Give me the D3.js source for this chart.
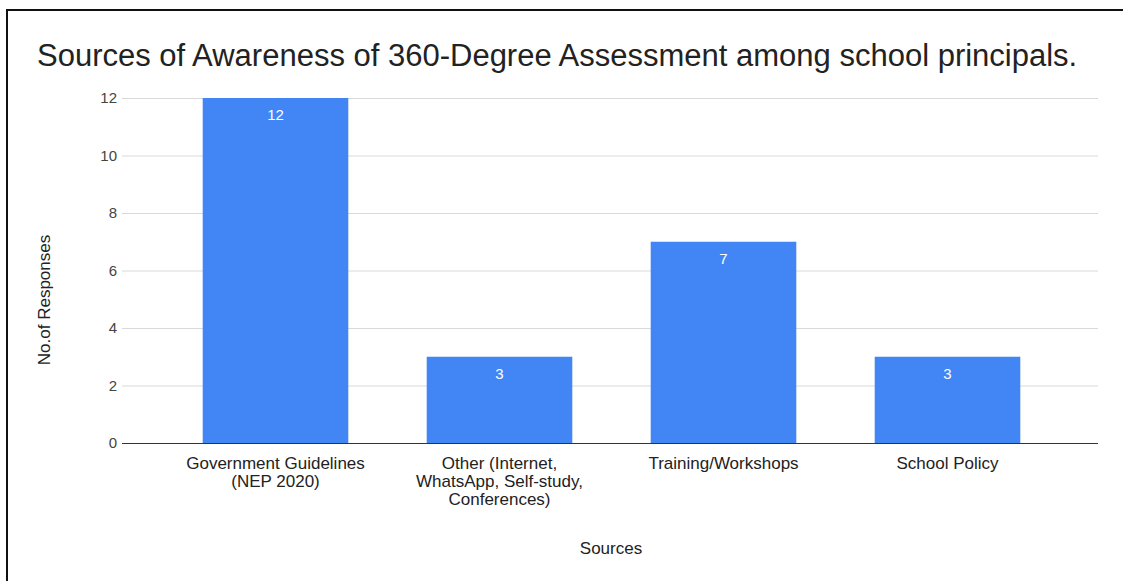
<!DOCTYPE html>
<html>
<head>
<meta charset="utf-8">
<script src="https://cdn.jsdelivr.net/npm/d3@7/dist/d3.min.js"></script>
<style>
  html, body { margin: 0; padding: 0; background: #fff; }
  svg { display: block; font-family: "Liberation Sans", Arial, sans-serif; }
</style>
</head>
<body>
<svg id="chart" width="1123" height="581"></svg>
<script>
// Survey results: where school principals heard about 360-degree assessment
const categories = [
  ["Government Guidelines", "(NEP 2020)"],
  ["Other (Internet,", "WhatsApp, Self-study,", "Conferences)"],
  ["Training/Workshops"],
  ["School Policy"]
];
const responses = [12, 3, 7, 3];
const yTicks = [0, 2, 4, 6, 8, 10, 12];

const chartTitle = "Sources of Awareness of 360-Degree Assessment among school principals.";
const xTitle = "Sources";
const yTitle = "No.of Responses";

const svg = d3.select("#chart");

// frame around the chart
svg.append("rect")
  .attr("x", 7).attr("y", 10)
  .attr("width", 1130).attr("height", 590)
  .attr("fill", "#fff")
  .attr("stroke", "#111").attr("stroke-width", 2);

const plot = { left: 122, right: 1098, top: 98, bottom: 443 };

const x = d3.scaleBand()
  .domain(d3.range(categories.length))
  .range([163.5, 1059.5])
  .paddingInner(0.35)
  .paddingOuter(0.175);

const y = d3.scaleLinear()
  .domain([0, 12])
  .range([plot.bottom, plot.top]);

// title
svg.append("text")
  .attr("x", 37).attr("y", 66)
  .attr("font-size", 31)
  .attr("fill", "#222")
  .text(chartTitle);

// horizontal gridlines
const yAxis = d3.axisLeft(y)
  .tickValues(yTicks)
  .tickSize(-(plot.right - plot.left))
  .tickPadding(5)
  .tickFormat(d3.format("d"));

const gy = svg.append("g")
  .attr("transform", `translate(${plot.left},0)`)
  .call(yAxis);
gy.select(".domain").remove();
gy.selectAll(".tick line")
  .attr("stroke", d => d === 0 ? "#333" : "#d9d9d9")
  .attr("stroke-width", 1);
gy.selectAll(".tick text")
  .attr("font-size", 15)
  .attr("fill", "#444")
  .attr("font-family", "Liberation Sans, Arial, sans-serif");

// bars
svg.append("g")
  .selectAll("rect")
  .data(responses)
  .join("rect")
  .attr("x", (d, i) => x(i))
  .attr("y", d => y(d))
  .attr("width", x.bandwidth())
  .attr("height", d => y(0) - y(d))
  .attr("fill", "#4285f4");

// redraw baseline on top of the bars
svg.append("line")
  .attr("x1", plot.left).attr("x2", plot.right)
  .attr("y1", y(0) + 0.5).attr("y2", y(0) + 0.5)
  .attr("stroke", "#333").attr("stroke-width", 1);

// value labels inside bar tops
svg.append("g")
  .selectAll("text")
  .data(responses)
  .join("text")
  .attr("x", (d, i) => x(i) + x.bandwidth() / 2)
  .attr("y", d => y(d) + 22)
  .attr("text-anchor", "middle")
  .attr("font-size", 15)
  .attr("fill", "#fff")
  .text(d => d);

// category labels, wrapped over several lines
const catG = svg.append("g");
categories.forEach((lines, i) => {
  const t = catG.append("text")
    .attr("x", x(i) + x.bandwidth() / 2)
    .attr("y", 469)
    .attr("text-anchor", "middle")
    .attr("font-size", 17)
    .attr("fill", "#222");
  lines.forEach((ln, k) => {
    t.append("tspan")
      .attr("x", x(i) + x.bandwidth() / 2)
      .attr("dy", k === 0 ? 0 : 18)
      .text(ln);
  });
});

// axis titles
svg.append("text")
  .attr("x", 611).attr("y", 554)
  .attr("text-anchor", "middle")
  .attr("font-size", 17)
  .attr("fill", "#222")
  .text(xTitle);

svg.append("text")
  .attr("transform", "translate(50,300) rotate(-90)")
  .attr("text-anchor", "middle")
  .attr("font-size", 17)
  .attr("fill", "#222")
  .text(yTitle);
</script>
</body>
</html>
